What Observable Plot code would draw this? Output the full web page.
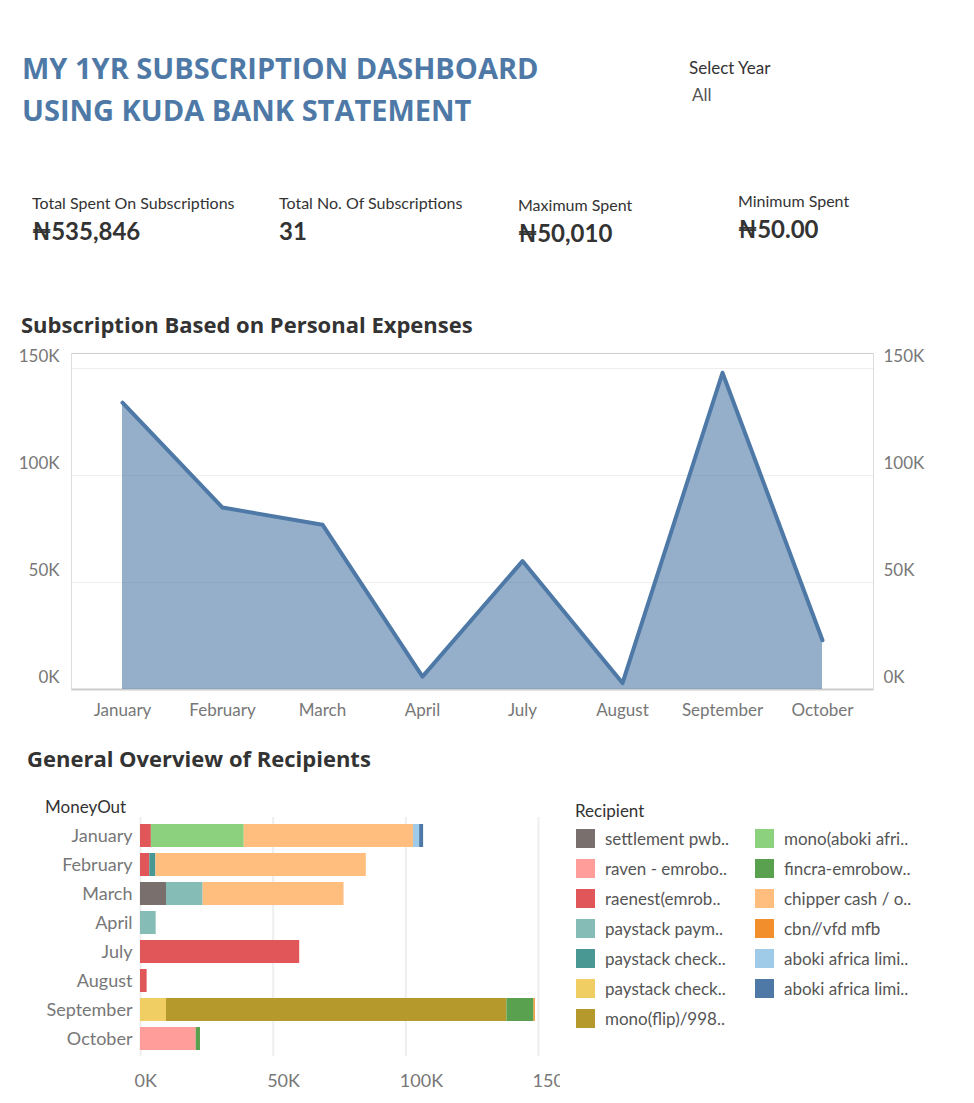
<!DOCTYPE html>
<html><head><meta charset="utf-8">
<script src="https://cdn.jsdelivr.net/npm/d3@7"></script>
<script src="https://cdn.jsdelivr.net/npm/@observablehq/plot@0.6"></script>
<style>
body{margin:0;width:974px;height:1103px;position:relative;font-family:Lato,"Open Sans",sans-serif;background:#fff;color:#333}
.abs{position:absolute}
.title{left:22px;top:47px;font-size:29px;font-weight:bold;color:#4E79A7;line-height:42px;font-family:"Open Sans",sans-serif}
.kl{font-size:16px;color:#333}
.kv{font-size:24px;font-weight:bold;color:#333;margin-top:4px}
.h2{font-size:22px;font-weight:bold;color:#333;font-family:"Open Sans",sans-serif}
.leg div{height:30px;display:flex;align-items:center;font-size:17px;color:#555;white-space:nowrap}
.leg span{display:inline-block;width:19px;height:19px;margin-right:10px}
</style></head><body>
<div class="abs title">MY 1YR SUBSCRIPTION DASHBOARD<br>USING KUDA BANK STATEMENT</div>
<div class="abs" style="left:689px;top:57px;font-size:17px">Select Year</div>
<div class="abs" style="left:692px;top:84px;font-size:17px;color:#555">All</div>
<div id="kpis"></div>
<div class="abs h2" style="left:21px;top:309px">Subscription Based on Personal Expenses</div>
<div class="abs" id="area" style="left:0;top:338px"></div>
<div class="abs h2" style="left:27px;top:743px">General Overview of Recipients</div>
<div class="abs" style="left:45px;top:796px;font-size:17px;color:#333">MoneyOut</div>
<div class="abs" id="bars" style="left:0;top:813px"></div>
<div class="abs" style="left:575px;top:800px;font-size:17px;color:#333">Recipient</div>
<div class="abs leg" id="leg1" style="left:576px;top:823px"></div>
<div class="abs leg" id="leg2" style="left:755px;top:823px"></div>
<script>
const months = ["January","February","March","April","July","August","September","October"];
const monthTotals = [134000,85000,77000,6000,60000,3000,148000,23000];

const recipients = ["settlement pwb..","raven - emrobo..","raenest(emrob..","paystack paym..","paystack check..","paystack check.. ","mono(flip)/998..","mono(aboki afri..","fincra-emrobow..","chipper cash / o..","cbn//vfd mfb","aboki africa limi..","aboki africa limi.. "];
const colors = ["#79706E","#FF9D9A","#E15759","#86BCB6","#499894","#F1CE63","#B6992D","#8CD17D","#59A14F","#FFBE7D","#F28E2B","#A0CBE8","#4E79A7"];
// stacked segments in display order: [month, recipient index, amount]
const barMonth = ["January","January","January","January","January","February","February","February","March","March","March","April","July","August","September","September","September","September","October","October"];
const barRecipient = [2,7,9,11,12,2,4,9,0,3,9,3,2,2,5,6,8,10,1,8];
const barAmount = [4100,35000,63800,2300,1500,3500,2300,79300,9800,13800,53100,5900,60000,2500,9800,128300,10200,500,21000,1600];

const kpiLabels = ["Total Spent On Subscriptions","Total No. Of Subscriptions","Maximum Spent","Minimum Spent"];
const kpiValues = ["₦535,846","31","₦50,010","₦50.00"];
const kpiPos = [[32,193],[279,193],[518,195],[738,191]];
kpiLabels.forEach((l,i)=>{
  const d=document.createElement("div");d.className="abs";
  d.style.left=kpiPos[i][0]+"px";d.style.top=kpiPos[i][1]+"px";
  d.innerHTML=`<div class="kl">${l}</div><div class="kv">${kpiValues[i]}</div>`;
  document.getElementById("kpis").appendChild(d);
});

const kfmt = d => d/1000 + "K";
const areaData = months.map((m,i)=>({month:m, value:monthTotals[i]}));
const area = Plot.plot({
  width:974, height:387, marginLeft:71, marginRight:101, marginTop:15, marginBottom:36,
  style:{fontSize:"17px", fontFamily:"Lato, sans-serif", color:"#777", overflow:"visible"},
  x:{type:"point", domain:months, padding:0.5, label:null},
  y:{domain:[0,157000], label:null},
  marks:[
    Plot.gridY([0,50000,100000,150000],{stroke:"#eee", strokeOpacity:1}),
    Plot.ruleY([0],{stroke:"#ccc", strokeWidth:2}),
    Plot.ruleY([157000],{stroke:"#ccc"}),
    Plot.frame({stroke:"#ddd", anchor:"left"}),
    Plot.frame({stroke:"#ddd", anchor:"right"}),
    Plot.areaY(areaData,{x:"month", y:"value", fill:"#4E79A7", fillOpacity:0.6}),
    Plot.lineY(areaData,{x:"month", y:"value", stroke:"#4E79A7", strokeWidth:4}),
    Plot.axisY([0,50000,100000,150000],{anchor:"left", tickFormat:kfmt, tickSize:0, tickPadding:12, dy:-12, fill:"#777"}),
    Plot.axisY([0,50000,100000,150000],{anchor:"right", tickFormat:kfmt, tickSize:0, tickPadding:10, dy:-12, fill:"#777"}),
    Plot.axisX({tickSize:0, tickPadding:14, fill:"#777"})
  ]
});
document.getElementById("area").appendChild(area);

const barData = barMonth.map((m,i)=>({month:m, recipient:recipients[barRecipient[i]], amount:barAmount[i], order:i}));
const bars = Plot.plot({
  width:560, height:289, marginLeft:140, marginRight:22, marginTop:4, marginBottom:46,
  style:{fontSize:"18px", fontFamily:"Lato, sans-serif", color:"#777"},
  x:{domain:[0,150000], label:null},
  y:{domain:months, label:null, padding:0.22},
  color:{domain:recipients, range:colors},
  marks:[
    Plot.gridX([0,50000,100000,150000],{stroke:"#eee", strokeOpacity:1, strokeWidth:2}),
    Plot.barX(barData, Plot.stackX({x:"amount", y:"month", fill:"recipient", order:"order"})),
    Plot.axisX([0,50000,100000,150000],{tickFormat:kfmt, tickSize:0, tickPadding:18, fill:"#777", textAnchor:"start", dx:-6}),
    Plot.axisY({tickSize:0, tickPadding:8, fill:"#777"})
  ]
});
document.getElementById("bars").appendChild(bars);

recipients.forEach((r,i)=>{
  const d=document.createElement("div");
  d.innerHTML=`<span style="background:${colors[i]}"></span>${r.trim()}`;
  document.getElementById(i<7?"leg1":"leg2").appendChild(d);
});
</script>
</body></html>
